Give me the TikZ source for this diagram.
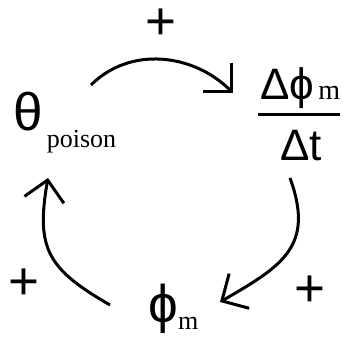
\documentclass[tikz,border=0pt]{standalone}
\usepackage{fontspec}
\setmainfont{Liberation Sans}
\newfontfamily\subfont{Liberation Serif}
\usetikzlibrary{arrows.meta}

\newcommand{\bigfont}{\fontsize{26.5}{28}\selectfont}
\newcommand{\fracfont}{\fontsize{22}{22}\selectfont}
\newcommand{\lowsub}[3][13]{\raisebox{-#2}{\subfont\fontsize{#1}{#1}\selectfont #3}}

\tikzset{
  feedback/.style={line width=1.5pt, -{Straight Barb[length=10pt, width=20pt]}},
  sign/.style={font=\bigfont, inner sep=0pt, anchor=base},
  quantity/.style={inner sep=0pt, anchor=base west},
}

\begin{document}
\begin{tikzpicture}[x=0.5pt, y=0.5pt]
  \useasboundingbox (0,0) rectangle (343,337);

  % quantities in the loop
  \node[quantity, font=\bigfont] (poison) at (13,206) {θ\hspace{2pt}\lowsub{8.5pt}{poison}};
  \node[quantity, font=\fracfont] (rate) at (258,176)
    {\setlength{\arrayrulewidth}{1.5pt}%
     \begin{tabular}[b]{@{}l@{}}
       \hspace{1pt}Δϕ\hspace{2pt}\lowsub[14]{0pt}{m}\hspace{20pt}\\ \hline
       \rule{0pt}{22.5pt}\hspace{11pt}Δt
     \end{tabular}};
  \node[quantity, font=\bigfont] (phim) at (148,14) {ϕ\lowsub{3.5pt}{m}};

  % free ends of the arrows
  \coordinate (top-a) at (91,252);
  \coordinate (top-b) at (233,244);
  \coordinate (right-a) at (290,159);
  \coordinate (right-b) at (220,35);
  \coordinate (left-a) at (110,32);
  \coordinate (left-b) at (48,159);

  \draw[feedback] (top-a) to[out=45, in=135] (top-b);
  \draw[feedback] (right-a) to[out=-70, in=30, looseness=1.3] (right-b);
  \draw[feedback] (left-a) to[out=150, in=-100, looseness=1.3] (left-b);

  % signs of the links
  \node[sign] (sign-top) at (161,297) {+};
  \node[sign] (sign-right) at (310,30.5) {+};
  \node[sign] (sign-left) at (24,37.5) {+};
\end{tikzpicture}
\end{document}
